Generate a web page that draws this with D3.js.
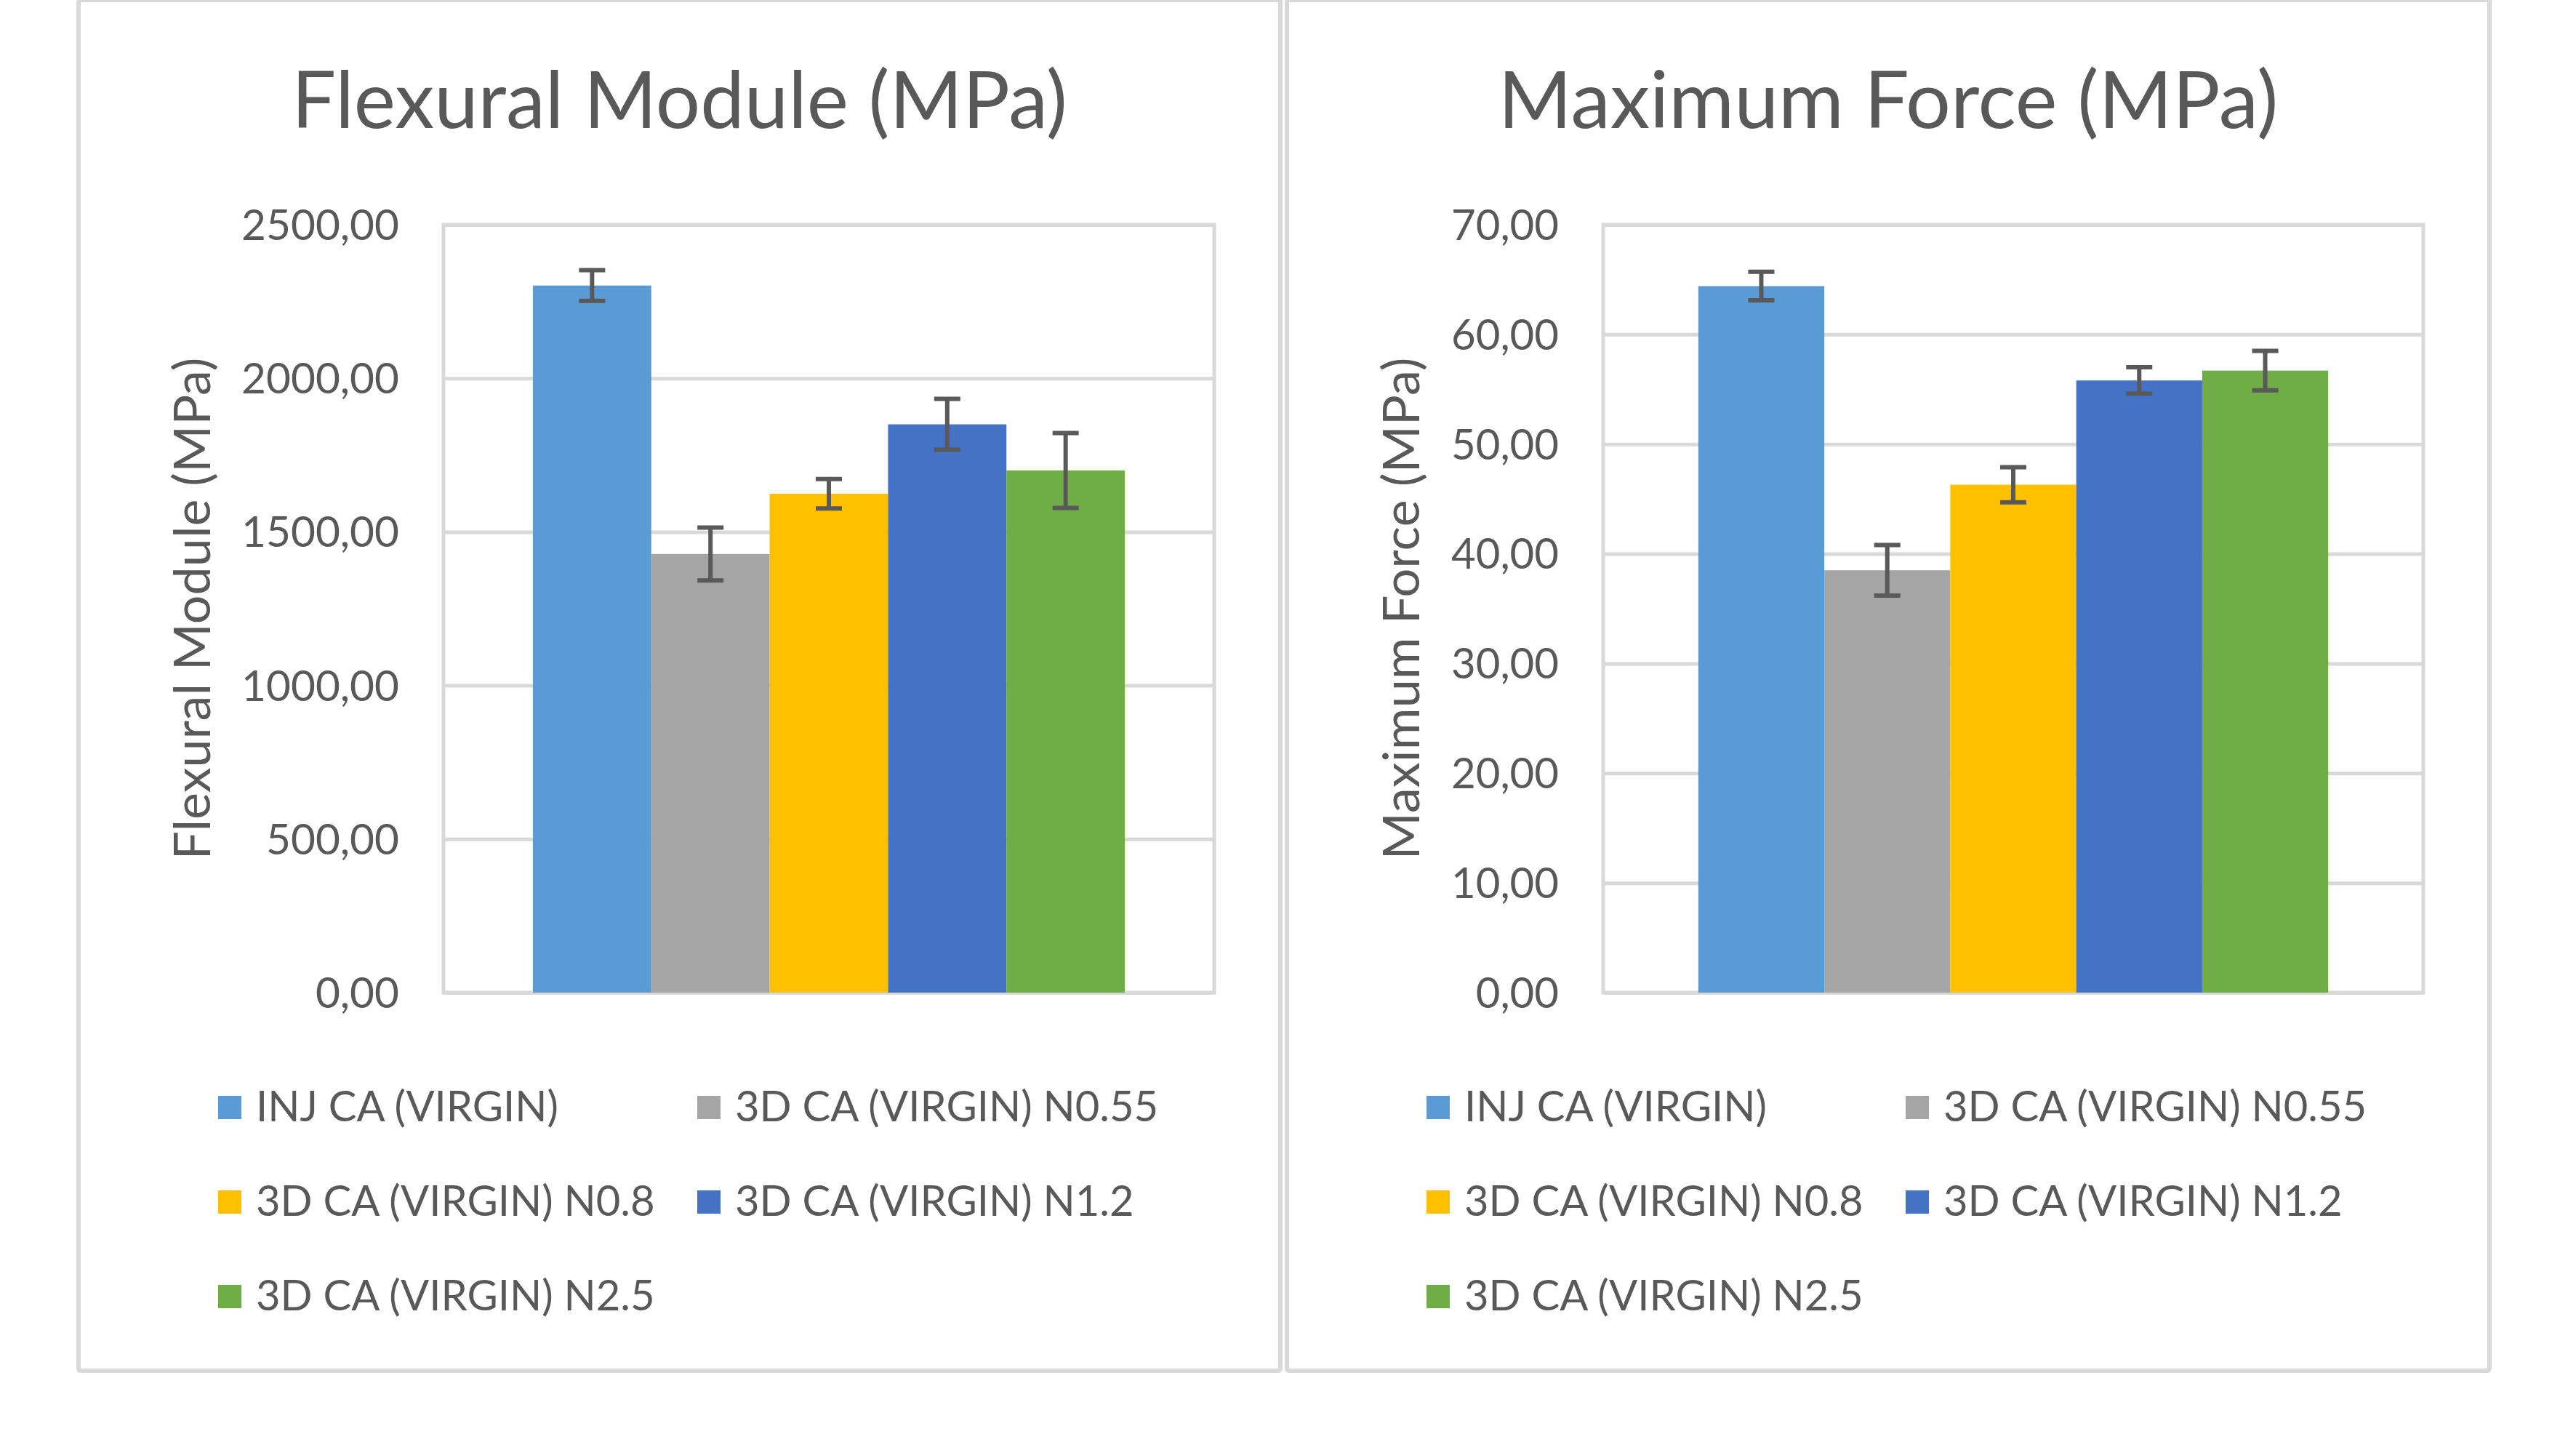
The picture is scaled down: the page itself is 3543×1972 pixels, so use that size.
<!DOCTYPE html>
<html>
<head>
<meta charset="utf-8">
<script src="https://cdn.jsdelivr.net/npm/d3@7"></script>
<style>
  body { margin: 0; background: #fff; }
  text { font-family: Lato, "Open Sans", sans-serif; fill: #595959; }
</style>
</head>
<body>
<script>
// series names shared by both charts
var seriesNames = ["INJ CA (VIRGIN)", "3D CA (VIRGIN) N0.55", "3D CA (VIRGIN) N0.8", "3D CA (VIRGIN) N1.2", "3D CA (VIRGIN) N2.5"];
var seriesColors = ["#5B9BD5", "#A5A5A5", "#FFC000", "#4472C4", "#70AD47"];

// flexural module (MPa)
var flexValues = [2302, 1428, 1624, 1850, 1700];
var flexErrors = [50, 86, 48, 83, 122];
var flexTicks = [0, 500, 1000, 1500, 2000, 2500];

// maximum force (MPa)
var forceValues = [64.4, 38.5, 46.3, 55.8, 56.7];
var forceErrors = [1.3, 2.3, 1.6, 1.2, 1.8];
var forceTicks = [0, 10, 20, 30, 40, 50, 60, 70];

var width = 3543;
var height = 1972;

var svg = d3.select("body")
            .append("svg")
            .attr("width", width)
            .attr("height", height);

var fmt = function(d) {
  return d3.format(".2f")(d).replace(".", ",");
};

// shrink/grow font so the text takes the wanted width
var fitWidth = function(sel, target) {
  var size = parseFloat(sel.attr("font-size"));
  var w = sel.node().getComputedTextLength();
  sel.attr("font-size", size * target / w);
};

var drawPanel = function(p) {
  var g = svg.append("g");

  // outer chart frame
  g.append("rect")
    .attr("x", p.left)
    .attr("y", 0)
    .attr("width", p.right - p.left)
    .attr("height", 1885)
    .attr("rx", 3)
    .attr("fill", "#fff")
    .attr("stroke", "#d9d9d9")
    .attr("stroke-width", 6);

  var title = g.append("text")
    .attr("x", (p.left + p.right) / 2)
    .attr("y", 176)
    .attr("text-anchor", "middle")
    .attr("font-size", 100)
    .text(p.title);
  fitWidth(title, p.titleWidth);

  var plotTop = 309, plotBottom = 1365;
  var y = d3.scaleLinear()
            .domain([0, d3.max(p.ticks)])
            .range([plotBottom, plotTop]);

  var x0 = d3.scaleBand()
             .domain([""])
             .range([p.plotLeft, p.plotRight])
             .paddingInner(0)
             .paddingOuter(0.151);
  var x1 = d3.scaleBand()
             .domain(d3.range(p.values.length))
             .range([0, x0.bandwidth()]);

  // gridlines
  g.append("g")
    .attr("transform", "translate(" + p.plotLeft + ",0)")
    .call(d3.axisLeft(y).tickValues(p.ticks).tickSize(-(p.plotRight - p.plotLeft)).tickFormat(""))
    .call(function(a) {
      a.select(".domain").remove();
      a.selectAll("line").attr("stroke", "#d9d9d9").attr("stroke-width", 5);
    });

  // plot area box
  g.append("rect")
    .attr("x", p.plotLeft)
    .attr("y", plotTop)
    .attr("width", p.plotRight - p.plotLeft)
    .attr("height", plotBottom - plotTop)
    .attr("fill", "none")
    .attr("stroke", "#d9d9d9")
    .attr("stroke-width", 5);

  // tick labels
  var axis = g.append("g")
    .attr("transform", "translate(" + (p.plotLeft - 61) + ",0)")
    .call(d3.axisLeft(y).tickValues(p.ticks).tickSize(0).tickPadding(0).tickFormat(fmt));
  axis.select(".domain").remove();
  axis.selectAll("text")
    .attr("font-size", 60)
    .attr("font-family", "Lato, 'Open Sans', sans-serif")
    .attr("fill", "#595959")
    .attr("dy", "0.35em");
  var probe = axis.select(".tick:last-of-type text");
  var tickSize = 60 * p.tickWidth / probe.node().getComputedTextLength();
  axis.selectAll("text").attr("font-size", tickSize);

  // bars
  var bars = g.append("g")
    .attr("transform", "translate(" + x0("") + ",0)");
  bars.selectAll("rect")
    .data(p.values)
    .enter()
    .append("rect")
    .attr("x", function(d, i) { return x1(i); })
    .attr("y", function(d) { return y(d); })
    .attr("width", x1.bandwidth())
    .attr("height", function(d) { return plotBottom - y(d); })
    .attr("fill", function(d, i) { return seriesColors[i]; });

  // error bars
  var err = bars.selectAll("g.err")
    .data(p.values)
    .enter()
    .append("g")
    .attr("class", "err")
    .attr("stroke", "#595959")
    .attr("stroke-width", 6);
  var cx = function(i) { return x1(i) + x1.bandwidth() / 2; };
  err.append("line")
    .attr("x1", function(d, i) { return cx(i); })
    .attr("x2", function(d, i) { return cx(i); })
    .attr("y1", function(d, i) { return y(d + p.errors[i]); })
    .attr("y2", function(d, i) { return y(d - p.errors[i]); });
  err.append("line")
    .attr("x1", function(d, i) { return cx(i) - 18; })
    .attr("x2", function(d, i) { return cx(i) + 18; })
    .attr("y1", function(d, i) { return y(d + p.errors[i]); })
    .attr("y2", function(d, i) { return y(d + p.errors[i]); });
  err.append("line")
    .attr("x1", function(d, i) { return cx(i) - 18; })
    .attr("x2", function(d, i) { return cx(i) + 18; })
    .attr("y1", function(d, i) { return y(d - p.errors[i]); })
    .attr("y2", function(d, i) { return y(d - p.errors[i]); });

  // y axis title
  var yt = g.append("text")
    .attr("transform", "translate(" + p.yTitleX + "," + ((plotTop + plotBottom) / 2) + ") rotate(-90)")
    .attr("text-anchor", "middle")
    .attr("font-size", 66)
    .text(p.title);
  fitWidth(yt, 691);

  // legend
  var legend = g.selectAll("g.leg")
    .data(seriesNames)
    .enter()
    .append("g")
    .attr("class", "leg")
    .attr("transform", function(d, i) {
      var col = i % 2, row = Math.floor(i / 2);
      return "translate(" + (p.left + 192 + col * 659) + "," + (1523 + row * 130) + ")";
    });
  legend.append("rect")
    .attr("x", 0)
    .attr("y", -16)
    .attr("width", 32)
    .attr("height", 32)
    .attr("fill", function(d, i) { return seriesColors[i]; });
  var lt = legend.append("text")
    .attr("x", 52)
    .attr("y", 19)
    .attr("font-size", 52)
    .text(function(d) { return d; });
  var firstW = lt.node().getComputedTextLength();
  lt.attr("font-size", 52 * 416 / firstW);
};

drawPanel({
  left: 108, right: 1761,
  plotLeft: 610, plotRight: 1670,
  title: "Flexural Module (MPa)", titleWidth: 1067,
  values: flexValues, errors: flexErrors, ticks: flexTicks,
  tickWidth: 217, yTitleX: 289
});

drawPanel({
  left: 1770, right: 3424,
  plotLeft: 2205, plotRight: 3333,
  title: "Maximum Force (MPa)", titleWidth: 1073,
  values: forceValues, errors: forceErrors, ticks: forceTicks,
  tickWidth: 148, yTitleX: 1952
});
</script>
</body>
</html>
